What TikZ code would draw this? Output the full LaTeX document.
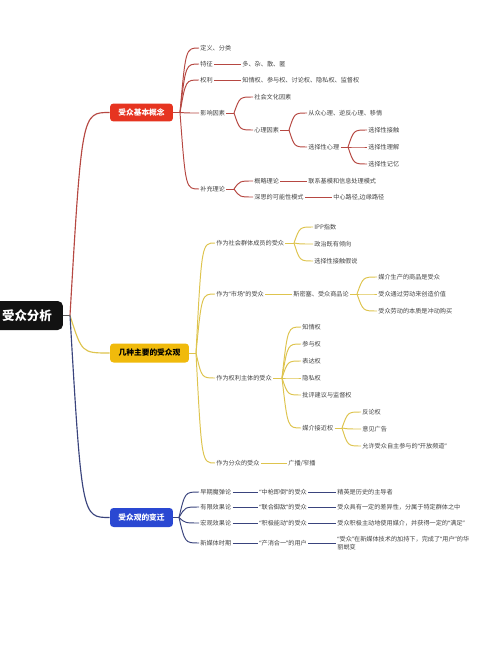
\documentclass[tikz,border=0pt]{standalone}
\usepackage{fontspec}
\setmainfont{Noto Sans CJK SC}
\newfontfamily\qfont{Noto Sans}
\newcommand\zqt[1]{{\qfont “}#1{\qfont ”}}
\usetikzlibrary{calc}
\definecolor{redbox}{RGB}{230,52,32}
\definecolor{redline}{RGB}{182,72,66}
\definecolor{yelbox}{RGB}{240,186,12}
\definecolor{yelline}{RGB}{222,196,78}
\definecolor{bluebox}{RGB}{42,72,210}
\definecolor{blueline}{RGB}{58,68,125}
\definecolor{leafc}{RGB}{68,68,68}
\definecolor{rootc}{RGB}{18,18,18}
\newcommand\conn[3]{\draw[#1] let \p1=(#2), \p2=(#3) in (#2) .. controls ({\x1+0.3*(\x2-\x1)},\y2) and ({\x1+0.3*(\x2-\x1)},\y2) .. (#3);}
\tikzset{
  leaf/.style={anchor=west, inner sep=0.6pt, font=\fontsize{3.5}{4.6}\selectfont, text=leafc, align=left},
  boxbase/.style={rounded corners=2pt, minimum height=0.36cm, inner sep=0pt, font=\fontsize{4.4}{5}\selectfont\bfseries},
  rl/.style={draw=redline, line width=0.55pt},
  yl/.style={draw=yelline, line width=0.55pt},
  bl/.style={draw=blueline, line width=0.55pt},
}
\begin{document}
\begin{tikzpicture}[x=0.02cm,y=-0.02cm]
\fill[white] (0,0) rectangle (500,652);
\useasboundingbox (0,0) rectangle (500,652);
\clip (0,0) rectangle (500,652);
% root
\node[fill=rootc, text=white, rounded corners=3pt, minimum width=1.44cm, minimum height=0.58cm, inner sep=0pt, font=\fontsize{7.1}{8}\selectfont\bfseries] (root) at (27,315.5) {受众分析};
\coordinate (rb) at (70,315.5);
\draw[rootc!70, line width=0.6pt] (root.east) -- (rb);
% level 1 boxes
\node[boxbase, fill=redbox, text=white, minimum width=1.26cm] (R) at (141.5,112.5) {受众基本概念};
\node[boxbase, fill=yelbox, text=black, minimum width=1.58cm, minimum height=0.38cm] (Y) at (149.5,353) {几种主要的受众观};
\node[boxbase, fill=bluebox, text=white, minimum width=1.26cm, minimum height=0.38cm] (B) at (141.5,517.5) {受众观的变迁};
\conn{rl, line width=0.65pt}{rb}{R.west}
\conn{yl, line width=0.65pt}{rb}{Y.west}
\conn{bl, line width=0.65pt}{rb}{B.west}

% ===== red =====
\coordinate (Rb) at (180,112.5);
\draw[rl] (R.east) -- (Rb);
\node[leaf] (r1) at (199,48) {定义、分类};
\node[leaf] (r2) at (199,64) {特征};
\node[leaf] (r2a) at (241,64) {多、杂、散、匿};
\node[leaf] (r3) at (199,80) {权利};
\node[leaf] (r3a) at (241,80) {知情权、参与权、讨论权、隐私权、监督权};
\node[leaf] (r4) at (199,113) {影响因素};
\node[leaf] (r41) at (253,97) {社会文化因素};
\node[leaf] (r42) at (253,130) {心理因素};
\node[leaf] (r421) at (307,113) {从众心理、逆反心理、移情};
\node[leaf] (r422) at (307,147) {选择性心理};
\node[leaf] (r4221) at (367,130) {选择性接触};
\node[leaf] (r4222) at (367,147) {选择性理解};
\node[leaf] (r4223) at (367,164) {选择性记忆};
\node[leaf] (r5) at (199,189) {补充理论};
\node[leaf] (r51) at (253,181) {概略理论};
\node[leaf] (r51a) at (307,181) {联系基模和信息处理模式};
\node[leaf] (r52) at (253,197) {深思的可能性模式};
\node[leaf] (r52a) at (332,197) {中心路径,边缘路径};
\foreach \c in {r1,r2,r3,r4,r5} {\conn{rl}{Rb}{\c.west}}
\draw[rl] (r2.east) -- (r2a.west);
\draw[rl] (r3.east) -- (r3a.west);
\coordinate (r4b) at (234,113);
\draw[rl] (r4.east) -- (r4b);
\conn{rl}{r4b}{r41.west}
\conn{rl}{r4b}{r42.west}
\coordinate (r42b) at (289,130);
\draw[rl] (r42.east) -- (r42b);
\conn{rl}{r42b}{r421.west}
\conn{rl}{r42b}{r422.west}
\coordinate (r422b) at (348,147);
\draw[rl] (r422.east) -- (r422b);
\conn{rl}{r422b}{r4221.west}
\conn{rl}{r422b}{r4222.west}
\conn{rl}{r422b}{r4223.west}
\coordinate (r5b) at (234,189);
\draw[rl] (r5.east) -- (r5b);
\conn{rl}{r5b}{r51.west}
\conn{rl}{r5b}{r52.west}
\draw[rl] (r51.east) -- (r51a.west);
\draw[rl] (r52.east) -- (r52a.west);

% ===== yellow =====
\coordinate (Yb) at (196,353);
\draw[yl] (Y.east) -- (Yb);
\node[leaf] (y1) at (215,243) {作为社会群体成员的受众};
\node[leaf] (y11) at (313,227) {IPP指数};
\node[leaf] (y12) at (313,244) {政治既有倾向};
\node[leaf] (y13) at (313,261) {选择性接触假说};
\node[leaf] (y2) at (215,294) {作为\zqt{市场}的受众};
\node[leaf] (y2a) at (292,294) {斯密塞、受众商品论};
\node[leaf] (y21) at (377,277) {媒介生产的商品是受众};
\node[leaf] (y22) at (377,294) {受众通过劳动来创造价值};
\node[leaf] (y23) at (377,311) {受众劳动的本质是冲动购买};
\node[leaf] (y3) at (215,378) {作为权利主体的受众};
\node[leaf] (y31) at (301,327) {知情权};
\node[leaf] (y32) at (301,344) {参与权};
\node[leaf] (y33) at (301,361) {表达权};
\node[leaf] (y34) at (301,378) {隐私权};
\node[leaf] (y35) at (301,395) {批评建议与监督权};
\node[leaf] (y36) at (301,428) {媒介接近权};
\node[leaf] (y361) at (361,412) {反论权};
\node[leaf] (y362) at (361,429) {意见广告};
\node[leaf] (y363) at (361,446) {允许受众自主参与的\zqt{开放频道}};
\node[leaf] (y4) at (215,463) {作为分众的受众};
\node[leaf] (y4a) at (287,463) {广播/窄播};
\foreach \c in {y1,y2,y3,y4} {\conn{yl}{Yb}{\c.west}}
\coordinate (y1b) at (294,243);
\draw[yl] (y1.east) -- (y1b);
\foreach \c in {y11,y12,y13} {\conn{yl}{y1b}{\c.west}}
\draw[yl] (y2.east) -- (y2a.west);
\coordinate (y2b) at (357,294);
\draw[yl] (y2a.east) -- (y2b);
\foreach \c in {y21,y22,y23} {\conn{yl}{y2b}{\c.west}}
\coordinate (y3b) at (282,378);
\draw[yl] (y3.east) -- (y3b);
\foreach \c in {y31,y32,y33,y34,y35,y36} {\conn{yl}{y3b}{\c.west}}
\coordinate (y36b) at (342,428);
\draw[yl] (y36.east) -- (y36b);
\foreach \c in {y361,y362,y363} {\conn{yl}{y36b}{\c.west}}
\draw[yl] (y4.east) -- (y4a.west);

% ===== blue =====
\coordinate (Bb) at (179,517.5);
\draw[bl] (B.east) -- (Bb);
\node[leaf] (b1) at (199,492) {早期魔弹论};
\node[leaf] (b1a) at (258,492) {\zqt{中枪即倒}的受众};
\node[leaf] (b1b) at (336,492) {精英是历史的主导者};
\node[leaf] (b2) at (199,507) {有限效果论};
\node[leaf] (b2a) at (258,507) {\zqt{联合御敌}的受众};
\node[leaf] (b2b) at (336,507) {受众具有一定的差异性，分属于特定群体之中};
\node[leaf] (b3) at (199,523) {宏观效果论};
\node[leaf] (b3a) at (258,523) {\zqt{积极能动}的受众};
\node[leaf] (b3b) at (336,523) {受众积极主动地使用媒介，并获得一定的\zqt{满足}};
\node[leaf] (b4) at (199,543) {新媒体时期};
\node[leaf] (b4a) at (258,543) {\zqt{产消合一}的用户};
\node[leaf] (b4b) at (336,543) {\zqt{受众}在新媒体技术的加持下，完成了\zqt{用户}的华\\丽蜕变};
\foreach \c in {b1,b2,b3,b4} {\conn{bl}{Bb}{\c.west}}
\draw[bl] (b1.east) -- (b1a.west);
\draw[bl] (b1a.east) -- (b1b.west);
\draw[bl] (b2.east) -- (b2a.west);
\draw[bl] (b2a.east) -- (b2b.west);
\draw[bl] (b3.east) -- (b3a.west);
\draw[bl] (b3a.east) -- (b3b.west);
\draw[bl] (b4.east) -- (b4a.west);
\draw[bl] (b4a.east) -- (b4b.west);
\end{tikzpicture}
\end{document}
